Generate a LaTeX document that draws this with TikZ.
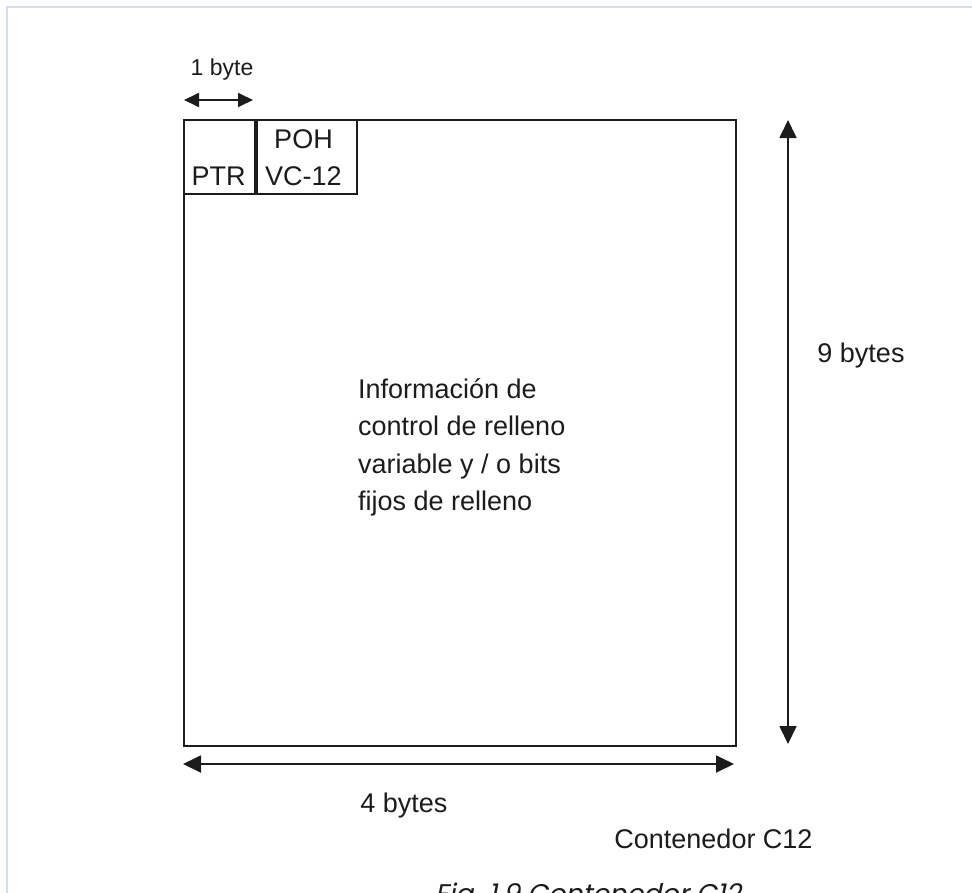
\documentclass[tikz,border=0pt]{standalone}
\usepackage{fontspec}
\setmainfont{Liberation Sans}
\newfontfamily\capfont[FakeSlant=0.2]{Poppins}
\usetikzlibrary{arrows.meta}
\definecolor{framecol}{HTML}{D6DDEA}
\definecolor{ink}{HTML}{1C1C1C}
\begin{document}
\begin{tikzpicture}[x=1pt,y=-1pt,
  box/.style={draw=ink, line width=1.8pt, inner sep=0pt, anchor=north west},
  txt/.style={inner sep=0pt, anchor=base, text=ink, font=\fontsize{27}{37.5}\selectfont},
  smalltxt/.style={inner sep=0pt, anchor=base, text=ink, font=\fontsize{23}{28}\selectfont},
  dimarrow/.style={draw=ink, line width=1.8pt, {Triangle[length=18pt,width=17pt]}-{Triangle[length=18pt,width=17pt]}},
  dimarrowsmall/.style={draw=ink, line width=1.8pt, {Triangle[length=15pt,width=14pt]}-{Triangle[length=15pt,width=14pt]}}
]
\useasboundingbox (0,0) rectangle (972,892);
\draw[framecol, line width=2.5pt] (7,895) -- (7,7) -- (975,7);

% boxes
\node[box, minimum width=552pt, minimum height=626pt] (main) at (183,119) {};
\node[box, minimum width=71pt, minimum height=74pt] (ptr) at (183,119) {};
\node[box, minimum width=100pt, minimum height=74pt] (poh) at (ptr.north east) {};

% box texts
\node[txt] (ptrtxt) at (218.5,185) {PTR};
\node[txt] (pohtxt) at (303.5,148) {POH};
\node[txt] (vctxt) at (303.5,185) {VC-12};

% info text
\node[inner sep=0pt, anchor=north west, align=left, text=ink,
      font=\fontsize{27}{37.5}\selectfont] (info) at (358,376)
  {\rule{0pt}{22pt}Información de\\control de relleno\\variable y / o bits\\fijos de relleno};

% 1 byte
\coordinate (b1l) at (184,100);
\coordinate (b1r) at (253,100);
\draw[dimarrowsmall] (b1l) -- (b1r);
\node[smalltxt] (onebyte) at (222,75) {1 byte};

% 9 bytes
\coordinate (vtop) at (788,120);
\coordinate (vbot) at (788,744);
\draw[dimarrow] (vtop) -- (vbot);
\node[txt] (ninebytes) at (861,362) {9 bytes};

% 4 bytes
\coordinate (hleft) at (183,764);
\coordinate (hright) at (734,764);
\draw[dimarrow] (hleft) -- (hright);
\node[txt] (fourbytes) at (404,812) {4 bytes};

% labels
\node[txt] (cont) at (713.5,848) {Contenedor C12};
\node[inner sep=0pt, anchor=base, text=ink, font=\capfont\fontsize{27}{32}\selectfont] (caption) at (588,903) {Fig. 1.9 Contenedor C12};
\end{tikzpicture}
\end{document}
